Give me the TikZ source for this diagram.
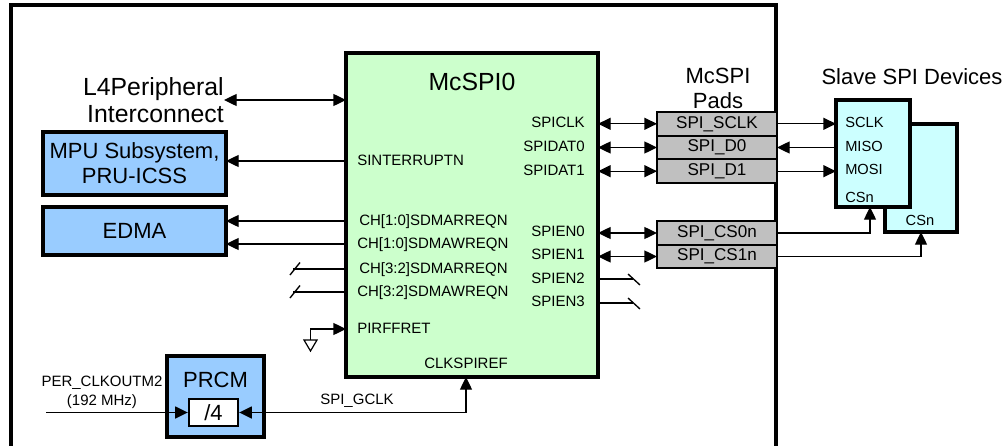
\documentclass[tikz,border=0pt]{standalone}
\usepackage{fontspec}
\setmainfont{Liberation Sans}
\usetikzlibrary{arrows.meta}
\definecolor{mgreen}{HTML}{CCFFCC}
\definecolor{mblue}{HTML}{99CCFF}
\definecolor{mcyan}{HTML}{CCFFFF}
\definecolor{mgray}{HTML}{C0C0C0}
\begin{document}
\begin{tikzpicture}[x=0.75pt,y=-0.75pt,
  conn/.style={line width=1pt},
  tip/.style={conn,-{Triangle[length=9.5pt,width=9pt]}},
  dbl/.style={conn,{Triangle[length=9.5pt,width=9pt]}-{Triangle[length=9.5pt,width=9pt]}},
  blk/.style={draw,line width=2.4pt,inner sep=0pt,outer sep=0pt},
  bluebox/.style={blk,fill=mblue,font=\fontsize{16.5}{18.75}\selectfont,align=center},
  pad/.style={draw,line width=1.5pt,fill=mgray,inner sep=0pt,outer sep=0pt,minimum width=90pt,minimum height=17.6pt,font=\fontsize{12.8}{14}\selectfont},
  sig/.style={inner sep=0pt,font=\fontsize{11.25}{13}\selectfont,text height=0.716em,text depth=0pt},
  slv/.style={inner sep=0pt,font=\fontsize{11}{13}\selectfont,text height=0.716em,text depth=0pt},
  title/.style={inner sep=0pt,font=\fontsize{16.5}{18.75}\selectfont,align=center}
]
\useasboundingbox (0,0) rectangle (1008,446);
\clip (0,0) rectangle (1008,446);
% outer frame
\draw[line width=2.3pt] (11,480) -- (11,5) -- (776,5) -- (776,480);

% McSPI0 block
\node[blk,fill=mgreen,minimum width=189pt,minimum height=243pt] (mcspi) at (472,215) {};
\node[inner sep=0pt,font=\fontsize{18.6}{20}\selectfont] (mctitle) at (472,82) {McSPI0};

% left signal labels
\node[sig,anchor=west] (sint) at (357,161) {SINTERRUPTN};
\node[sig,anchor=west] (ch10r) at (359,221) {CH[1:0]SDMARREQN};
\node[sig,anchor=west] (ch10w) at (357,244) {CH[1:0]SDMAWREQN};
\node[sig,anchor=west] (ch32r) at (359,269) {CH[3:2]SDMARREQN};
\node[sig,anchor=west] (ch32w) at (357,292) {CH[3:2]SDMAWREQN};
\node[sig,anchor=west] (pirf) at (357,329) {PIRFFRET};
\node[sig] (clkref) at (466,364) {CLKSPIREF};

% right signal labels
\node[sig,anchor=east] (spiclk) at (585,123) {SPICLK};
\node[sig,anchor=east] (spid0) at (585,147) {SPIDAT0};
\node[sig,anchor=east] (spid1) at (585,171) {SPIDAT1};
\node[sig,anchor=east] (spien0) at (585,232) {SPIEN0};
\node[sig,anchor=east] (spien1) at (585,255) {SPIEN1};
\node[sig,anchor=east] (spien2) at (585,279) {SPIEN2};
\node[sig,anchor=east] (spien3) at (585,302) {SPIEN3};

% L4 interconnect
\node[inner sep=0pt,anchor=east,align=right,font=\fontsize{18.6}{20.25}\selectfont] (l4) at (224,100) {L4Peripheral\\Interconnect};
\draw[dbl] (l4.east) -- (l4.east -| mcspi.west);

% MPU and EDMA
\node[bluebox,minimum width=137.25pt,minimum height=47.25pt] (mpu) at (134.5,163.5) {MPU Subsystem,\\PRU-ICSS};
\node[bluebox,minimum width=137.25pt,minimum height=36pt] (edma) at (134.5,231) {EDMA};
\draw[tip] (sint -| mcspi.west) -- (sint -| mpu.east);
\draw[tip] (ch10r -| mcspi.west) -- (ch10r -| edma.east);
\draw[tip] (ch10w -| mcspi.west) -- (ch10w -| edma.east);

% unconnected CH[3:2]
\coordinate (s1) at (293,269);
\coordinate (s2) at (293,292);
\draw[conn] (ch32r -| mcspi.west) -- (s1);
\draw[conn] (ch32w -| mcspi.west) -- (s2);
\draw[conn] (290,275) -- (300,262.5);
\draw[conn] (290,298) -- (300,285.5);

% PIRFFRET ground
\coordinate (gnd) at (310.5,340);
\draw[tip] (gnd) |- (pirf -| mcspi.west);
\draw[line width=0.9pt,fill=white] (304,340) -- (317,340) -- (310.5,351) -- cycle;

% PRCM
\node[blk,fill=mblue,minimum width=72.75pt,minimum height=60.75pt] (prcm) at (215.5,396.5) {};
\node[inner sep=0pt,font=\fontsize{16.5}{18}\selectfont] (prcmt) at (215.5,380) {PRCM};
\node[draw,line width=1.8pt,fill=white,inner sep=0pt,minimum width=36.75pt,minimum height=20.25pt,font=\fontsize{16.5}{18}\selectfont] (div) at (213.5,412.5) {/4};
\coordinate (perin) at (46,412.5);
\draw[tip] (perin) -- (div.west);
\node[inner sep=0pt,align=center,font=\fontsize{11.25}{14.25}\selectfont] (perlbl) at (102,392) {PER\_CLKOUTM2\\(192 MHz)};
\draw[dbl] (div.east) -| (clkref.center |- mcspi.south);
\node[sig] (gclk) at (357,400) {SPI\_GCLK};

% pads
\node[title] (padt) at (718,88) {McSPI\\Pads};
\node[pad] (sclkpad) at (717,123.8) {SPI\_SCLK};
\node[pad] (d0pad) at (717,147.5) {SPI\_D0};
\node[pad] (d1pad) at (717,171.2) {SPI\_D1};
\node[pad] (cs0pad) at (717,233) {SPI\_CS0n};
\node[pad] (cs1pad) at (717,256.5) {SPI\_CS1n};

\draw[dbl] (sclkpad.west -| mcspi.east) -- (sclkpad.west);
\draw[dbl] (d0pad.west -| mcspi.east) -- (d0pad.west);
\draw[dbl] (d1pad.west -| mcspi.east) -- (d1pad.west);
\draw[dbl] (cs0pad.west -| mcspi.east) -- (cs0pad.west);
\draw[dbl] (cs1pad.west -| mcspi.east) -- (cs1pad.west);

% unconnected SPIEN2/3
\coordinate (e2) at (633,279);
\coordinate (e3) at (633,303);
\draw[conn] (spien2 -| mcspi.east) -- (e2);
\draw[conn] (spien3 -| mcspi.east) |- (e3);
\draw[conn] (628,274) -- (640,285);
\draw[conn] (628,298) -- (640,309);

% slave devices
\node[title] (slvt) at (912,77) {Slave SPI Devices};
\node[blk,fill=mcyan,minimum width=54pt,minimum height=81pt] (slaveb) at (921,178) {};
\node[blk,fill=mcyan,minimum width=55.5pt,minimum height=80.25pt] (slave) at (873,153.5) {};
\node[slv,anchor=west] (sclk) at (845,123) {SCLK};
\node[slv,anchor=west] (miso) at (845,147) {MISO};
\node[slv,anchor=west] (mosi) at (845,170) {MOSI};
\node[slv,anchor=west] (csn) at (845,198) {CSn};
\node[slv] (csnb) at (920,221) {CSn};

\draw[tip] (sclkpad.east) -- (sclkpad.east -| slave.west);
\draw[tip] (d0pad.east -| slave.west) -- (d0pad.east);
\draw[tip] (d1pad.east) -- (d1pad.east -| slave.west);
\draw[tip] (cs0pad.east) -| ([xshift=-2.25pt]slave.south);
\draw[tip] (cs1pad.east) -| (slaveb.south);
\end{tikzpicture}
\end{document}
